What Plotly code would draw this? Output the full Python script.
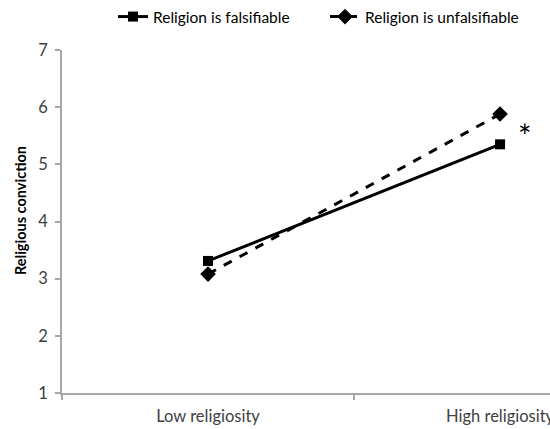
import plotly.graph_objects as go

categories = ["Low religiosity", "High religiosity"]
x_pos = [0, 1]
falsifiable = [3.31, 5.35]
unfalsifiable = [3.08, 5.88]
y_ticks = [1, 2, 3, 4, 5, 6, 7]

FONT = "Lato, 'Open Sans', sans-serif"

fig = go.Figure()
fig.add_trace(go.Scatter(
    x=x_pos, y=falsifiable, name="Religion is falsifiable",
    mode="lines+markers",
    line=dict(color="black", width=3),
    marker=dict(symbol="square", size=10, color="black"),
))
fig.add_trace(go.Scatter(
    x=x_pos, y=unfalsifiable, name="Religion is unfalsifiable",
    mode="lines+markers",
    line=dict(color="black", width=3, dash="dash"),
    marker=dict(symbol="diamond", size=12, color="black"),
))

fig.add_annotation(x=1.085, y=5.5, text="*", showarrow=False,
                   font=dict(size=32, color="black", family=FONT))
fig.add_annotation(xref="paper", yref="paper", x=-42 / 488, y=(393 - 211) / 343,
                   xanchor="center", yanchor="middle",
                   text="<b>Religious conviction</b>", textangle=-90, showarrow=False,
                   font=dict(size=14.5, color="black", family=FONT))

fig.update_layout(
    width=550, height=429,
    margin=dict(l=62, r=0, t=50, b=36, autoexpand=False),
    plot_bgcolor="white", paper_bgcolor="white",
    font=dict(family=FONT, color="#595959", size=14),
    showlegend=True,
    legend=dict(orientation="h", xref="container", yref="container",
                x=113 / 550, xanchor="left", y=1 - 17 / 429, yanchor="middle",
                font=dict(size=15.5, color="black"),
                entrywidth=167, entrywidthmode="pixels",
                bgcolor="rgba(0,0,0,0)"),
    xaxis=dict(
        range=[-0.5, 1.171],
        tickmode="array", tickvals=x_pos, ticktext=categories,
        ticks="", showgrid=False, zeroline=False, automargin=False,
        ticklabeloverflow="allow", ticklabelstandoff=7,
        showline=True, linecolor="#a6a6a6", linewidth=1.5,
        tickfont=dict(size=16.5, color="#404040"),
        minor=dict(tickmode="array", tickvals=[-0.5, 0.5], ticks="outside",
                   ticklen=5, tickcolor="#a6a6a6", tickwidth=1.5, showgrid=False),
    ),
    yaxis=dict(
        range=[1, 7], tickmode="array", tickvals=y_ticks,
        ticks="outside", ticklen=5, tickcolor="#a6a6a6", tickwidth=1.5,
        showgrid=False, zeroline=False, automargin=False,
        ticklabelstandoff=4,
        showline=True, linecolor="#a6a6a6", linewidth=1.5,
        tickfont=dict(size=16.5, color="#404040"),
    ),
)

fig.write_html("out.html", config={"displayModeBar": False},
               post_script="document.body.style.margin='0';")
